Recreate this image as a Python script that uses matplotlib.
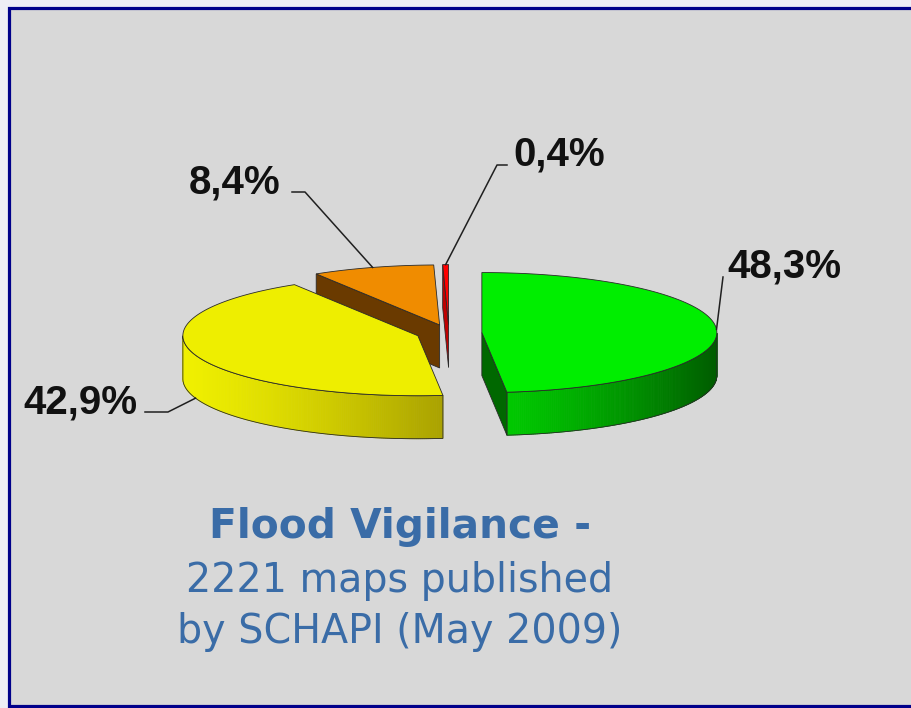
import numpy as np
import matplotlib.pyplot as plt
from matplotlib.patches import Polygon, Rectangle
from matplotlib.colors import to_rgb

# data
shares = [48.3, 42.9, 8.4, 0.4]
labels = ['48,3%', '42,9%', '8,4%', '0,4%']
top_colors = ['#00ee00', '#eeee00', '#f08c00', '#ff0000']
rim_light = ['#00c800', '#f0f000', '#c07000', '#e00000']
rim_dark = ['#005c00', '#aaa200', '#7a4000', '#900000']
cut_colors = ['#006800', '#c8c000', '#6a3a00', '#c00000']
title_lines = ['Flood Vigilance -', '2221 maps published', 'by SCHAPI (May 2009)']

# pie geometry (pixels)
CX, CY = 449, 333
RX, RY = 235, 60
DEPTH = 43
EXPLODE = 0.14
START = 90
EDGE = '#2a2a2a'

bounds = START - np.cumsum([0] + shares) * 360.0 / sum(shares)


def pt(cx, cy, ang, z=0.0):
    t = np.radians(ang)
    return cx + RX * np.cos(t), cy - RY * np.sin(t) + z


def slice_center(i):
    mid = np.radians((bounds[i] + bounds[i + 1]) / 2)
    return CX + EXPLODE * RX * np.cos(mid), CY - EXPLODE * RY * np.sin(mid)


def draw_slice(ax, i):
    hi, lo = bounds[i], bounds[i + 1]
    cx, cy = slice_center(i)
    ang = np.linspace(lo, hi, max(int((hi - lo) * 2), 4))

    # curved outer side, only the front half shows
    front = ang[np.sin(np.radians(ang)) <= 1e-9]
    if len(front) > 1:
        xs = np.cos(np.radians(front))
        span = max(xs.max() - xs.min(), 1e-6)
        c0, c1 = np.array(to_rgb(rim_light[i])), np.array(to_rgb(rim_dark[i]))
        for k in range(len(front) - 1):
            a0, a1 = front[k], front[k + 1]
            f = ((np.cos(np.radians((a0 + a1) / 2)) - xs.min()) / span) ** 1.3
            col = c0 + (c1 - c0) * f
            quad = [pt(cx, cy, a0), pt(cx, cy, a1), pt(cx, cy, a1, DEPTH), pt(cx, cy, a0, DEPTH)]
            ax.add_patch(Polygon(quad, closed=True, facecolor=col, edgecolor=col, lw=0.6))
        outline = [pt(cx, cy, a) for a in front] + [pt(cx, cy, a, DEPTH) for a in front[::-1]]
        ax.add_patch(Polygon(outline, closed=True, facecolor='none', edgecolor=EDGE, lw=0.6))

    # radial cut faces
    for a, visible in ((hi, np.cos(np.radians(hi)) < -1e-6), (lo, np.cos(np.radians(lo)) > 1e-6)):
        if visible:
            quad = [(cx, cy), pt(cx, cy, a), pt(cx, cy, a, DEPTH), (cx, cy + DEPTH)]
            ax.add_patch(Polygon(quad, closed=True, facecolor=cut_colors[i], edgecolor=EDGE, lw=0.6))

    # top face
    top = [(cx, cy)] + [pt(cx, cy, a) for a in ang]
    ax.add_patch(Polygon(top, closed=True, facecolor=top_colors[i], edgecolor=EDGE, lw=0.6))


fig = plt.figure(figsize=(9.11, 7.08), dpi=100, facecolor='#eeeef5')
ax = fig.add_axes([0, 0, 1, 1])
ax.set_xlim(0, 911)
ax.set_ylim(708, 0)
ax.axis('off')

ax.add_patch(Rectangle((9, 7.5), 930, 698, facecolor='#d8d8d8', edgecolor='#00008a', lw=2.3))

# back slices first
order = sorted(range(len(shares)),
               key=lambda i: -np.sin(np.radians((bounds[i] + bounds[i + 1]) / 2)))
for i in order:
    draw_slice(ax, i)

# labels with leader lines
label_pos = [(727, 277, 'left'), (137, 413, 'right'), (280, 193, 'right'), (513, 166, 'left')]
leader_pts = [[(723, 277)], [(145, 412), (168, 412)], [(292, 192), (305, 192)], [(507, 165), (497, 165)]]
for i, lab in enumerate(labels):
    cx, cy = slice_center(i)
    mid = (bounds[i] + bounds[i + 1]) / 2
    z = DEPTH if np.sin(np.radians(mid)) < 0 else 0
    path = leader_pts[i] + [pt(cx, cy, mid, z)]
    ax.plot([p[0] for p in path], [p[1] for p in path], color='#202020', lw=1.1)
    x, y, ha = label_pos[i]
    ax.text(x, y, lab, ha=ha, va='baseline', fontsize=29, fontweight='bold',
            family='Liberation Sans', color='#111111')

# caption
for k, line in enumerate(title_lines):
    ax.text(400, [538, 592, 643][k], line, ha='center', va='baseline',
            fontsize=29.3 if k == 0 else 28.5, fontweight='bold' if k == 0 else 'normal',
            family='DejaVu Sans', color='#3a6ca7')

fig.savefig('out.png', dpi=100, facecolor=fig.get_facecolor())
